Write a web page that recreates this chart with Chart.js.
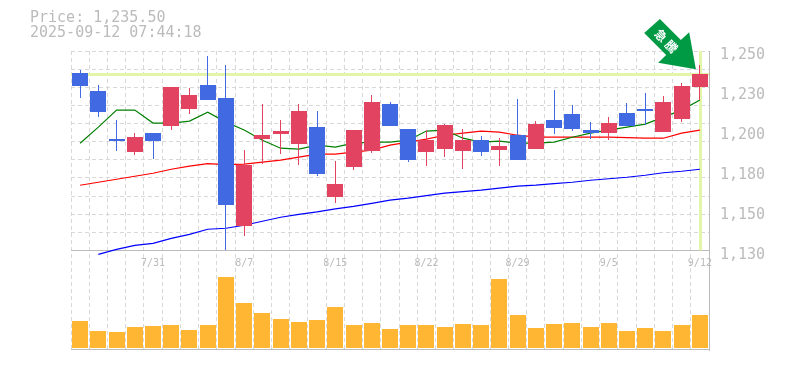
<!DOCTYPE html>
<html><head><meta charset="utf-8">
<style>html,body{margin:0;padding:0;background:#fff}canvas{display:block}</style>
<script src="https://cdn.jsdelivr.net/npm/chart.js@4"></script>
</head><body><canvas id="c" width="785" height="370"></canvas>
<script>
const categories=['7/25','7/28','7/29','7/30','7/31','8/1','8/4','8/5','8/6','8/7','8/8','8/12','8/13','8/14','8/15','8/18','8/19','8/20','8/21','8/22','8/25','8/26','8/27','8/28','8/29','9/1','9/2','9/3','9/4','9/5','9/8','9/9','9/10','9/11','9/12'];
const shownDates=['7/31','8/7','8/15','8/22','8/29','9/5','9/12'];
const opens=[1236.7,1225.9,1196.9,1189.1,1200.6,1204.8,1215.0,1229.5,1221.7,1144.5,1196.9,1200.0,1193.9,1204.2,1162.0,1180.1,1189.7,1218.0,1203.0,1189.1,1190.9,1189.7,1196.3,1190.3,1199.3,1190.9,1208.4,1212.0,1202.4,1200.6,1212.6,1215.0,1201.2,1209.0,1228.3];
const closes=[1228.9,1213.2,1195.7,1198.1,1195.7,1228.3,1223.5,1220.5,1157.1,1181.3,1199.3,1201.8,1213.8,1175.8,1169.8,1202.4,1219.3,1204.8,1184.3,1196.3,1205.4,1196.3,1189.1,1192.7,1184.3,1206.0,1203.6,1203.0,1200.6,1206.6,1204.8,1213.8,1219.3,1228.9,1236.1];
const highs=[1238.5,1229.5,1208.4,1200.6,1200.6,1228.3,1227.7,1247.0,1241.6,1190.3,1218.0,1208.4,1218.0,1213.8,1183.7,1202.4,1223.5,1219.3,1203.0,1202.4,1206.0,1203.0,1198.7,1197.5,1221.1,1207.8,1226.5,1217.4,1207.2,1210.2,1218.6,1224.7,1222.9,1230.7,1241.6];
const lows=[1221.7,1210.2,1189.7,1187.3,1184.9,1202.4,1212.0,1220.5,1130.0,1138.4,1181.9,1187.9,1181.3,1174.6,1158.3,1178.2,1188.5,1204.8,1183.1,1180.7,1186.1,1178.8,1186.7,1180.7,1184.3,1190.9,1200.0,1201.8,1196.9,1196.3,1204.8,1205.4,1201.2,1207.2,1220.5];
const maShort=[1194.5,1204.2,1214.4,1214.4,1206.6,1206.6,1207.8,1213.2,1207.2,1202.4,1196.3,1191.5,1190.9,1193.3,1192.1,1194.5,1195.1,1195.1,1196.3,1201.8,1202.4,1197.5,1195.1,1195.7,1194.5,1194.5,1195.1,1198.1,1200.6,1202.4,1204.2,1206.0,1210.2,1214.4,1220.5];
const maMid=[1169.2,1171.0,1172.8,1174.6,1176.4,1178.8,1180.7,1182.2,1181.6,1181.9,1183.1,1184.3,1186.1,1187.9,1187.9,1189.1,1190.3,1193.3,1195.1,1196.9,1199.3,1200.6,1201.8,1201.2,1199.3,1198.1,1198.1,1198.1,1198.1,1198.1,1197.8,1197.5,1197.5,1200.6,1202.4];
const maLong=[null,1127.6,1130.6,1133.0,1134.2,1137.2,1139.6,1142.7,1143.3,1145.1,1147.5,1149.9,1151.7,1153.2,1155.0,1156.5,1158.3,1160.2,1161.4,1162.9,1164.4,1165.3,1166.2,1167.4,1168.6,1169.2,1170.1,1171.0,1172.2,1173.1,1174.0,1175.2,1176.7,1177.6,1178.8];
const volumes=[27,17,16,21,22,23,18,23,71,45,35,29,26,28,41,23,25,19,23,23,21,24,23,69,33,20,24,25,21,25,17,20,17,23,33];
const yTickValues=[1250,1226,1202,1178,1154,1130];
const yTickLabels=['1,250','1,230','1,200','1,180','1,150','1,130'];
const yGridValues=[1250,1239.1,1228.2,1217.3,1206.4,1195.5,1184.5,1173.6,1162.7,1151.8,1140.9,1130];
const currentPrice=1236;
const titleLines=['Price: 1,235.50','2025-09-12 07:44:18'];
const badgeText=['急','騰'];

const UP='#e24360',DOWN='#4169e1',GRID='#d8d8d8',AXIS='#bbbbbb',TEXT='#bbbbbb',MARK='#e3f5a9';
const MONO='"DejaVu Sans Mono", monospace';
const candleColors=opens.map((o,i)=>closes[i]>=o?UP:DOWN);

const decor={
  id:'decor',
  afterDatasetsUpdate(chart){
    chart.data.datasets.forEach((d,i)=>{
      if(d.type!=='bar')return;
      chart.getDatasetMeta(i).data.forEach(el=>{
        el.x=d.barThickness%2?Math.floor(el.x)+0.5:Math.round(el.x);
        el.y=Math.round(el.y);el.base=Math.round(el.base);
      });
    });
  },
  beforeDatasetsDraw(chart){
    const {ctx,chartArea:a,scales:{x,y}}=chart;
    ctx.save();ctx.strokeStyle=MARK;ctx.lineWidth=3;
    const py=Math.round(y.getPixelForValue(currentPrice))+0.5;
    ctx.beginPath();ctx.moveTo(a.left,py);ctx.lineTo(a.right,py);ctx.stroke();
    const px=Math.round(x.getPixelForValue(categories.length-1))+0.5;
    ctx.beginPath();ctx.moveTo(px,a.top);ctx.lineTo(px,y.getPixelForValue(1130));ctx.stroke();
    ctx.restore();
  },
  afterDraw(chart){
    const {ctx,chartArea:a,scales:{x,y}}=chart;
    ctx.save();
    ctx.strokeStyle=AXIS;ctx.lineWidth=1;
    ctx.beginPath();ctx.moveTo(a.left,a.bottom-0.5);ctx.lineTo(a.right,a.bottom-0.5);ctx.stroke();
    ctx.fillStyle=TEXT;ctx.font='15px '+MONO;ctx.textBaseline='middle';ctx.textAlign='left';
    ctx.fillText(titleLines[0],30,18.5);ctx.fillText(titleLines[1],30,33);
    // signal arrow anchored on the last candle's high
    const ax=x.getPixelForValue(categories.length-1), ay=y.getPixelForValue(highs[highs.length-1]);
    const poly=[[-55.7,-32],[-40,-46],[-19,-25],[-10.7,-32.7],[-4,4.3],[-41.7,-2.3],[-33.7,-10]];
    ctx.fillStyle='#009944';ctx.beginPath();
    poly.forEach((p,i)=>i?ctx.lineTo(ax+p[0],ay+p[1]):ctx.moveTo(ax+p[0],ay+p[1]));
    ctx.closePath();ctx.fill();
    ctx.fillStyle='#ffffff';ctx.font='bold 12px "Noto Sans CJK JP"';ctx.textAlign='center';
    [[-39,-29.5],[-28.5,-18.5]].forEach((p,i)=>{
      ctx.save();ctx.translate(ax+p[0],ay+p[1]);ctx.rotate(Math.PI/4);ctx.fillText(badgeText[i],0,0);ctx.restore();
    });
    ctx.restore();
  }
};

const lineDs=(data,color)=>({type:'line',yAxisID:'y',data,borderColor:color,borderWidth:1.2,pointRadius:0,tension:0,fill:false,order:5,spanGaps:false});
const barBase={type:'bar',grouped:false,borderWidth:0,inflateAmount:0};

new Chart(document.getElementById('c'),{
  type:'bar',
  data:{labels:categories,datasets:[
    lineDs(maShort,'#008000'),
    lineDs(maMid,'#ff0000'),
    lineDs(maLong,'#0000ff'),
    {...barBase,yAxisID:'y',data:highs.map((h,i)=>[lows[i],h]),backgroundColor:candleColors,barThickness:1,order:3},
    {...barBase,yAxisID:'y',data:opens.map((o,i)=>[o,closes[i]]),backgroundColor:candleColors,barThickness:16,order:2},
    {...barBase,yAxisID:'yVol',data:volumes,backgroundColor:'#ffb733',barThickness:16,order:4}
  ]},
  options:{
    responsive:false,animation:false,
    layout:{padding:{left:71,top:51,bottom:20,right:0}},
    plugins:{legend:{display:false},tooltip:{enabled:false},title:{display:false}},
    scales:{
      x:{
        position:{y:1130},
        offset:true,
        grid:{display:true,offset:true,color:GRID,drawTicks:false,lineWidth:1},
        border:{display:true,color:AXIS,width:1,dash:[4,3]},
        ticks:{autoSkip:false,maxRotation:0,minRotation:0,padding:7,color:TEXT,font:{family:MONO,size:10},
          callback(v,i){const l=categories[i];return shownDates.includes(l)?l:'';}}
      },
      y:{
        position:'right',min:1070,max:1250,
        afterBuildTicks(s){s.ticks=yTickValues.map(value=>({value}));},
        afterFit(s){s.width=76;},
        grid:{display:false,drawTicks:false},
        border:{display:true,color:AXIS,width:1},
        ticks:{autoSkip:false,padding:11,labelOffset:4.5,color:TEXT,font:{family:MONO,size:15},
          callback(v,i){return yTickLabels[i];}}
      },
      yGrid:{
        display:true,position:'right',min:1070,max:1250,
        afterBuildTicks(s){s.ticks=yGridValues.map(value=>({value}));},
        afterFit(s){s.width=0;},
        grid:{display:true,drawTicks:false,color:GRID},
        border:{display:false,dash:[4,3]},
        ticks:{display:false}
      },
      yVol:{display:false,min:-2,max:297}
    }
  },
  plugins:[decor]
});
</script></body></html>
